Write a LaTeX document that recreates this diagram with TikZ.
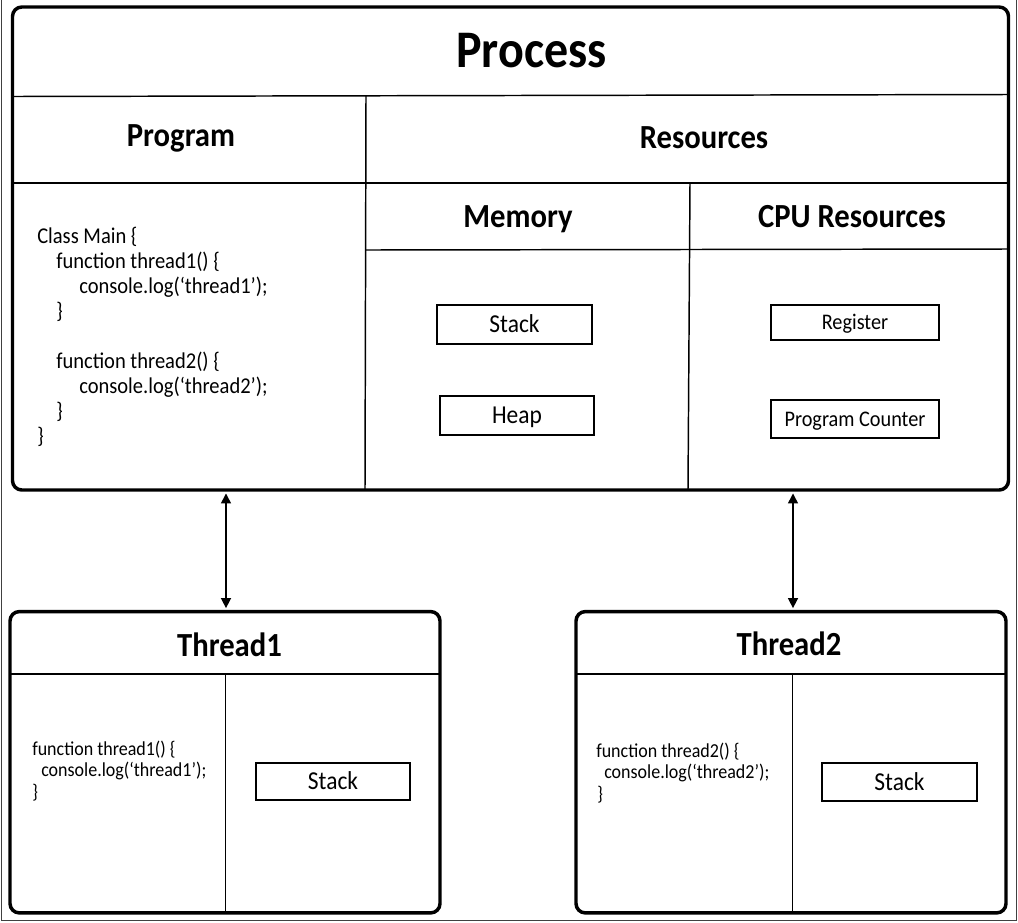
\documentclass[tikz,border=0pt]{standalone}
\usepackage{fontspec}
\setmainfont{Carlito}
\usetikzlibrary{arrows.meta}
\newcommand\tallt[1]{\scalebox{1}[1.1]{#1}}
\begin{document}
\begin{tikzpicture}[x=0.75pt,y=-0.75pt,
  bigbox/.style={draw, line width=2.6pt, rounded corners=7pt, inner sep=0pt},
  div/.style={line width=1.1pt},
  smallbox/.style={draw, line width=1.2pt, inner sep=0pt, text depth=0pt},
  boxfont/.style={font=\fontsize{17.6pt}{20pt}\selectfont, text height=12.4pt},
  regfont/.style={font=\fontsize{15.2pt}{18pt}\selectfont, text height=10.7pt},
  ttl/.style={font=\bfseries\fontsize{36pt}{40pt}\selectfont, anchor=base, inner sep=0pt},
  hdr/.style={font=\bfseries\fontsize{23pt}{27pt}\selectfont, anchor=base, inner sep=0pt},
  code/.style={font=\fontsize{15.4pt}{18pt}\selectfont, anchor=base west, inner sep=0pt},
  tcode/.style={font=\fontsize{13.5pt}{16pt}\selectfont, anchor=base west, inner sep=0pt},
  biarrow/.style={{Triangle[length=7.5pt,width=7.5pt]}-{Triangle[length=7.5pt,width=7.5pt]}, line width=1.1pt, shorten >=1.3pt, shorten <=1.3pt},
  frame/.style={line width=1.1pt, draw=black!75}]
\useasboundingbox (0,0) rectangle (1018,922);
\draw[frame] (1.5,0) -- (1.5,920.5) -- (1016.5,920.5) -- (1016.5,0);

% Process box
\node[bigbox, minimum width=747pt, minimum height=362.25pt] (process) at (510.5,248.5) {};
\draw[div] (12.5,96.5) -- (1008.5,94.5);
\draw[div] (366,95.5) -- (365,490);
\draw[div] (12.5,183) -- (1008.5,183);
\draw[div] (690,183) -- (688,490);
\draw[div] (366,250) -- (1008.5,249);

\node[ttl] (ptitle) at (531.5,67) {\tallt{Process}};
\node[hdr] (hprog) at (181,146) {\tallt{Program}};
\node[hdr] (hres) at (704,148) {\tallt{Resources}};
\node[hdr] (hmem) at (518,227) {\tallt{Memory}};
\node[hdr] (hcpu) at (852,227) {\tallt{CPU Resources}};

\node[code] (c1) at (37,243) {\tallt{Class Main \{}};
\node[code] (c2) at (56,268) {\tallt{function thread1() \{}};
\node[code] (c3) at (79,293) {\tallt{console.log(‘thread1’);}};
\node[code] (c4) at (56,318) {\tallt{\}}};
\node[code] (c5) at (56,368) {\tallt{function thread2() \{}};
\node[code] (c6) at (79,393) {\tallt{console.log(‘thread2’);}};
\node[code] (c7) at (56,418) {\tallt{\}}};
\node[code] (c8) at (37,443) {\tallt{\}}};

\node[smallbox, boxfont, minimum width=116.25pt, minimum height=29.25pt] (mstack) at (514.5,324.5) {\tallt{Stack}};
\node[smallbox, boxfont, minimum width=115.5pt, minimum height=29.25pt] (heap) at (517,415.5) {\tallt{Heap}};
\node[smallbox, regfont, minimum width=126pt, minimum height=26.25pt] (reg) at (855,322.5) {\tallt{Register}};
\node[smallbox, regfont, minimum width=126pt, minimum height=28.5pt] (pc) at (855,419) {\tallt{Program Counter}};

% Thread1
\node[bigbox, minimum width=322.5pt, minimum height=226pt] (thread1) at (225,762.25) {};
\draw[div] (10,674) -- (440,674);
\draw[div] (225.7,674) -- (225.7,913);
\node[hdr] (ht1) at (229.5,656.7) {\tallt{Thread1}};
\node[tcode] (t1a) at (32,755) {\tallt{function thread1() \{}};
\node[tcode] (t1b) at (41,776.5) {\tallt{console.log(‘thread1’);}};
\node[tcode] (t1c) at (32,798) {\tallt{\}}};
\node[smallbox, boxfont, minimum width=115.5pt, minimum height=27.75pt] (t1stack) at (333,781.5) {\tallt{Stack}};

% Thread2
\node[bigbox, minimum width=322.5pt, minimum height=226pt] (thread2) at (791,762.25) {};
\draw[div] (576,674) -- (1006,674);
\draw[div] (792.7,674) -- (792.7,913);
\node[hdr] (ht2) at (789,655) {\tallt{Thread2}};
\node[tcode] (t2a) at (596,757) {\tallt{function thread2() \{}};
\node[tcode] (t2b) at (604,778.5) {\tallt{console.log(‘thread2’);}};
\node[tcode] (t2c) at (597,800) {\tallt{\}}};
\node[smallbox, boxfont, minimum width=116.25pt, minimum height=28.5pt] (t2stack) at (899.5,782) {\tallt{Stack}};

% Connectors
\coordinate (a1) at ([xshift=0.75pt]thread1.north);
\coordinate (a2) at ([xshift=1.5pt]thread2.north);
\draw[biarrow] (process.south -| a1) -- (a1);
\draw[biarrow] (process.south -| a2) -- (a2);
\end{tikzpicture}
\end{document}
